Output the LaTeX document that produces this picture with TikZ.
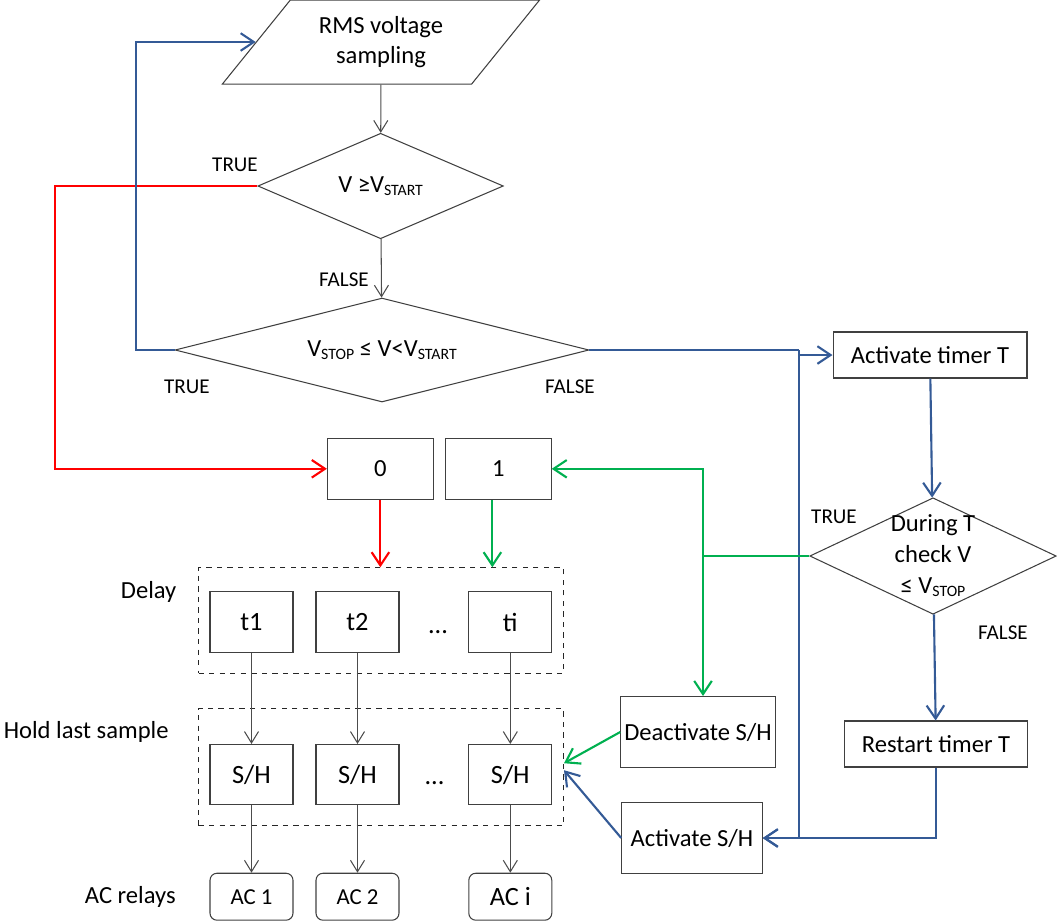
\documentclass[tikz,border=0pt]{standalone}
\usepackage{fontspec}
\setmainfont{Carlito}
\usepackage{tikz}
\usetikzlibrary{arrows.meta,shapes.geometric}

\definecolor{flowblue}{RGB}{52,90,150}
\definecolor{flowgreen}{RGB}{0,176,80}
\definecolor{flowred}{RGB}{255,0,0}
\newcommand{\vsub}[1]{\raisebox{-2pt}{\fontsize{9}{9}\selectfont #1}}

\begin{document}
\begin{tikzpicture}
                [x=0.02cm,y=-0.02cm,
                block/.style={rectangle,draw=black!75,line width=0.6pt,inner sep=2pt,font=\fontsize{14}{17}\selectfont},
                cell/.style={block,minimum width=1.66cm,minimum height=1.21cm,font=\fontsize{15}{17}\selectfont},
                relay/.style={block,rounded corners=4pt,minimum width=1.66cm,minimum height=0.94cm,font=\fontsize{13}{15}\selectfont},
                decision/.style={diamond,draw=black!75,line width=0.6pt,inner sep=0pt,align=center,font=\fontsize{14}{17.5}\selectfont},
                group/.style={rectangle,draw=black!85,dashed,line width=0.6pt,minimum width=7.3cm},
                tag/.style={font=\fontsize{12}{14}\selectfont},
                side/.style={inner sep=0pt,anchor=east,font=\fontsize{14}{17}\selectfont},
                edge/.style={->,>={Straight Barb[length=6.5pt,width=8pt]},line width=0.6pt},
                plain/.style={edge,black!70},
                wire/.style={line width=1.2pt},
                flow/.style={edge,wire,>={Straight Barb[length=7.5pt,width=10pt]}}
                ]
            \useasboundingbox (0,0) rectangle (1057,921);
            % sampling and the two tests
            \node[trapezium,trapezium left angle=51,trapezium right angle=129,
                  draw=black!75,line width=0.6pt,align=center,minimum width=6.35cm,minimum height=1.56cm,
                  font=\fontsize{14}{17}\selectfont] (rms) at (381,42) {RMS voltage\\sampling};
            \node[decision,aspect=2.3,minimum width=4.91cm,minimum height=2.11cm] (vge) at (380.6,186) {V ≥V\vsub{START}};
            \node[decision,aspect=4,minimum width=8.28cm,minimum height=2.08cm] (rng) at (382,350) {V\vsub{STOP} ≤ V<V\vsub{START}};
            \node[tag] (true1) at (235,165) {TRUE};
            \node[tag] (false1) at (344,280) {FALSE};
            \node[tag] (true2) at (187,387) {TRUE};
            \node[tag] (false2) at (570,387) {FALSE};
            % timer branch
            \node[block,minimum width=3.88cm,minimum height=0.92cm] (tmr) at (930,355) {Activate timer T};
            \node[decision,aspect=2.1,inner ysep=-12pt,minimum width=4.93cm,minimum height=2.33cm] (chk) at (933,556) {During T\\check V\\≤ V\vsub{STOP}};
            \node[tag] (true3) at (834,517) {TRUE};
            \node[tag] (false3) at (1003,633) {FALSE};
            \node[block,minimum width=3.66cm,minimum height=0.92cm] (rst) at (936,744) {Restart timer T};
            \node[block,minimum width=3.05cm,minimum height=1.42cm] (deact) at (698,732) {Deactivate S/H};
            \node[block,minimum width=2.81cm,minimum height=1.41cm] (actsh) at (692,838) {Activate S/H};
            % outputs
            \node[block,minimum width=2.12cm,minimum height=1.22cm] (zero) at (380.4,468.8) {0};
            \node[block,minimum width=2.11cm,minimum height=1.22cm] (one) at (498.4,468.8) {1};
            \node[group,minimum height=2.11cm] (delaygrp) at (381,620.5) {};
            \node[group,minimum height=2.35cm] (holdgrp) at (381,767.2) {};
            \node[cell] (t1) at (251.5,622) {t1};
            \node[cell] (t2) at (357.5,622) {t2};
            \node[cell] (ti) at (510.3,622) {ti};
            \node[cell] (sh1) at (251.5,774.7) {S/H};
            \node[cell] (sh2) at (357.5,774.7) {S/H};
            \node[cell] (shi) at (510.3,774.7) {S/H};
            \node[relay] (ac1) at (251.5,896.7) {AC 1};
            \node[relay] (ac2) at (357.5,896.7) {AC 2};
            \node[relay,font=\fontsize{15}{17}\selectfont] (aci) at (510.3,896.7) {AC i};
            \node[anchor=base,font=\fontsize{15}{17}\selectfont] (dots1) at (438,633) {...};
            \node[anchor=base,font=\fontsize{15}{17}\selectfont] (dots2) at (434.5,784) {...};
            \node[side] (delaylbl) at (176.7,592) {Delay};
            \node[side] (holdlbl) at (169,732) {Hold last sample};
            \node[side] (aclbl) at (176,897) {AC relays};
            \coordinate (bsplit) at (799,350);
            \coordinate (gsplit) at (703,556);
            % connectors
            \draw[plain] (rms) -- (vge);
            \draw[plain] (vge) -- (rng);
            \draw[flow,flowred] (vge.west) -- (55.4,186) |- (zero.west);
            \draw[flow,flowblue] (rng.west) -- (136.4,350) |- (rms.left side);
            \draw[wire,flowblue] (rng.east) -- (bsplit);
            \draw[flow,flowblue] (bsplit) |- (tmr.west);
            \draw[flow,flowblue] (bsplit) |- (actsh.east);
            \draw[flow,flowblue] (tmr) -- (chk);
            \draw[flow,flowblue] (chk) -- (rst);
            \draw[flow,flowblue] (rst.south) |- (actsh.east);
            \draw[wire,flowgreen] (chk.west) -- (gsplit);
            \draw[flow,flowgreen] (gsplit) |- (one.east);
            \draw[flow,flowgreen] (gsplit) -- (gsplit |- deact.north);
            \draw[flow,flowgreen] (deact.west) -- ([yshift=0.08cm]holdgrp.east);
            \draw[flow,flowblue] (actsh.west) -- ([yshift=-0.06cm]holdgrp.east);
            \draw[flow,flowred] (zero) -- (zero |- delaygrp.north);
            \draw[flow,flowgreen] ([xshift=-0.12cm]one.south) -- ([xshift=-0.12cm]one.south |- delaygrp.north);
            \draw[plain] (t1) -- (sh1);
            \draw[plain] (t2) -- (sh2);
            \draw[plain] (ti) -- (shi);
            \draw[plain] (sh1) -- (ac1);
            \draw[plain] (sh2) -- (ac2);
            \draw[plain] (shi) -- (aci);
            \end{tikzpicture}
\end{document}
